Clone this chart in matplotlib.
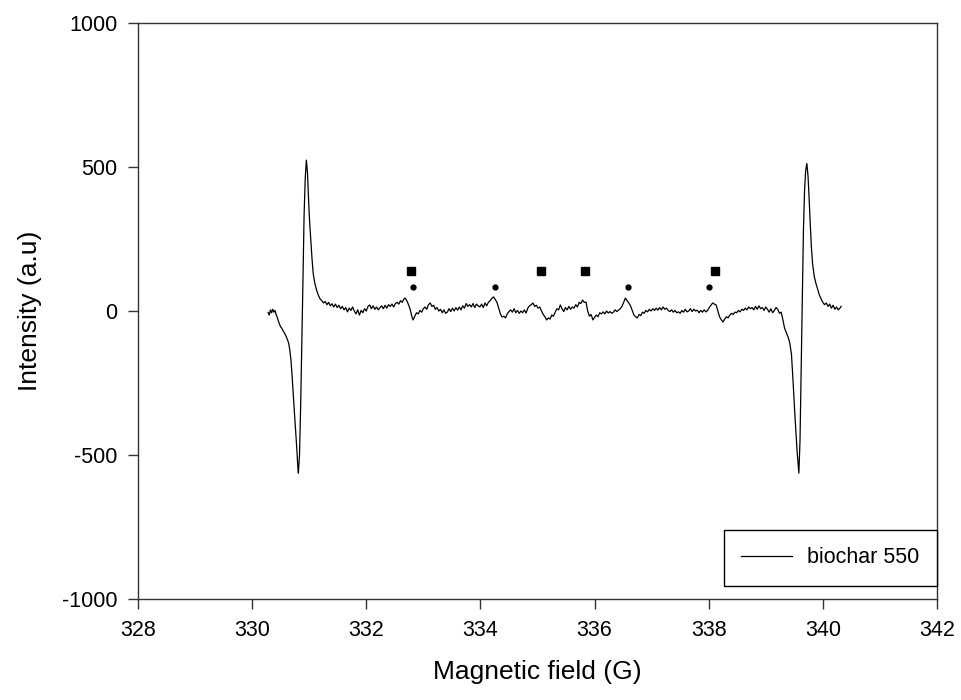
import matplotlib
matplotlib.use('Agg')
import matplotlib.pyplot as plt

plt.rcParams['font.family'] = ['Liberation Sans', 'DejaVu Sans']
plt.rcParams['axes.unicode_minus'] = False

# EPR spectrum (field in G, intensity in a.u.)
field = [
    330.28, 330.30, 330.32, 330.34, 330.36, 330.38, 330.40, 330.42, 330.44, 330.46,
    330.48, 330.50, 330.52, 330.54, 330.56, 330.58, 330.60, 330.62, 330.64, 330.66,
    330.68, 330.70, 330.72, 330.74, 330.76, 330.78, 330.80, 330.81, 330.83, 330.85,
    330.87, 330.89, 330.91, 330.93, 330.95, 330.97, 330.99, 331.01, 331.03, 331.05,
    331.07, 331.10, 331.13, 331.16, 331.19, 331.22, 331.25, 331.28, 331.31, 331.34,
    331.37, 331.40, 331.43, 331.46, 331.49, 331.52, 331.55, 331.58, 331.61, 331.64,
    331.67, 331.70, 331.73, 331.76, 331.79, 331.82, 331.85, 331.88, 331.91, 331.94,
    331.97, 332.00, 332.03, 332.06, 332.09, 332.12, 332.15, 332.18, 332.21, 332.24,
    332.27, 332.30, 332.33, 332.36, 332.39, 332.42, 332.45, 332.48, 332.51, 332.54,
    332.57, 332.60, 332.63, 332.66, 332.68, 332.71, 332.74, 332.77, 332.80, 332.82,
    332.85, 332.88, 332.91, 332.94, 332.97, 333.00, 333.03, 333.06, 333.09, 333.12,
    333.15, 333.18, 333.21, 333.24, 333.27, 333.30, 333.33, 333.36, 333.39, 333.42,
    333.45, 333.48, 333.51, 333.54, 333.57, 333.60, 333.63, 333.66, 333.69, 333.72,
    333.75, 333.78, 333.81, 333.84, 333.87, 333.90, 333.93, 333.96, 333.99, 334.02,
    334.05, 334.08, 334.11, 334.14, 334.17, 334.20, 334.23, 334.26, 334.29, 334.32,
    334.35, 334.38, 334.41, 334.44, 334.47, 334.50, 334.53, 334.56, 334.59, 334.62,
    334.65, 334.68, 334.71, 334.74, 334.77, 334.80, 334.83, 334.86, 334.89, 334.92,
    334.95, 334.98, 335.01, 335.04, 335.07, 335.10, 335.13, 335.16, 335.19, 335.22,
    335.25, 335.28, 335.31, 335.34, 335.37, 335.40, 335.43, 335.46, 335.49, 335.52,
    335.55, 335.58, 335.61, 335.64, 335.67, 335.70, 335.73, 335.76, 335.79, 335.82,
    335.85, 335.88, 335.91, 335.94, 335.97, 336.00, 336.03, 336.06, 336.09, 336.12,
    336.15, 336.18, 336.21, 336.24, 336.27, 336.30, 336.33, 336.36, 336.39, 336.42,
    336.45, 336.48, 336.51, 336.54, 336.57, 336.60, 336.63, 336.66, 336.69, 336.72,
    336.75, 336.78, 336.81, 336.84, 336.87, 336.90, 336.93, 336.96, 336.99, 337.02,
    337.05, 337.08, 337.11, 337.14, 337.17, 337.20, 337.23, 337.26, 337.29, 337.32,
    337.35, 337.38, 337.41, 337.44, 337.47, 337.50, 337.53, 337.56, 337.59, 337.62,
    337.65, 337.68, 337.71, 337.74, 337.77, 337.80, 337.83, 337.86, 337.89, 337.92,
    337.95, 337.98, 338.01, 338.04, 338.07, 338.10, 338.13, 338.16, 338.19, 338.22,
    338.25, 338.28, 338.31, 338.34, 338.37, 338.40, 338.43, 338.46, 338.49, 338.52,
    338.55, 338.58, 338.61, 338.64, 338.67, 338.70, 338.73, 338.76, 338.79, 338.82,
    338.85, 338.88, 338.91, 338.94, 338.97, 339.00, 339.03, 339.06, 339.09, 339.12,
    339.15, 339.18, 339.21, 339.24, 339.27, 339.30, 339.33, 339.36, 339.39, 339.42,
    339.45, 339.47, 339.49, 339.51, 339.53, 339.55, 339.57, 339.58, 339.60, 339.62,
    339.64, 339.66, 339.68, 339.70, 339.72, 339.74, 339.76, 339.78, 339.80, 339.82,
    339.85, 339.88, 339.91, 339.94, 339.97, 340.00, 340.03, 340.06, 340.09, 340.12,
    340.15, 340.18, 340.21, 340.24, 340.27, 340.30, 340.32,
]
intensity = [
    -5, -14, 4, -6, 6, -4, 2, -12, -22, -35,
    -46, -55, -60, -68, -74, -82, -90, -100, -112, -135,
    -170, -225, -290, -350, -410, -470, -540, -563, -500, -330,
    -120, 100, 330, 460, 524, 480, 380, 300, 240, 180,
    130, 95, 72, 55, 42, 36, 28, 33, 22, 30,
    18, 25, 14, 24, 12, 20, 8, 16, 4, 12,
    -3, 10, 2, 14, 0, -10, 4, -14, 2, -6,
    8, 0, 16, 21, 8, 18, 6, 14, 4, 12,
    18, 8, 20, 10, 22, 16, 24, 14, 26, 30,
    24, 36, 30, 42, 45, 36, 22, 5, -20, -31,
    -18, -6, -10, 2, -4, 8, 14, 6, 22, 28,
    16, 20, 6, 12, 0, 6, -6, 4, -8, -4,
    8, -2, 10, 0, 12, 3, 14, 4, 18, 10,
    26, 16, 22, 14, 26, 12, 24, 18, 14, 24,
    12, 28, 18, 30, 36, 44, 49, 40, 30, 10,
    -10, -21, -18, -24, -10, -2, 4, -4, 8, -6,
    2, -8, 0, -6, 4, -7, 10, 18, 22, 28,
    16, 20, 10, 14, 0, -12, -20, -31, -24, -28,
    -14, -18, -4, 8, 4, 21, 8, -2, 12, 4,
    16, 6, 14, 10, 22, 14, 30, 26, 38, 30,
    31, 0, -18, -12, -31, -22, -14, -20, -6, -10,
    -3, -10, 0, -7, -2, -8, -4, 4, -2, 3,
    8, 16, 30, 45, 36, 28, 18, 2, -14, -20,
    -24, -12, -16, -4, -8, 2, -3, 6, 0, 8,
    2, 10, 3, 12, 4, 14, 6, 10, 2, -2,
    4, -4, 2, -6, -3, -8, 2, -4, 6, -3,
    0, 8, -2, 6, 0, 3, -6, 2, -4, 4,
    -3, 2, 12, 20, 28, 24, 21, 0, -20, -30,
    -38, -28, -20, -24, -14, -8, -12, -4, -6, 2,
    -3, 6, 2, 10, 4, 14, 8, 12, 4, 16,
    6, 18, 8, 12, 2, 14, 6, -4, 8, -6,
    2, 12, 6, -8, -4, -30, -60, -75, -90, -110,
    -150, -215, -290, -360, -424, -490, -540, -563, -450, -200,
    60, 280, 420, 490, 512, 470, 390, 300, 220, 165,
    120, 95, 75, 55, 42, 30, 22, 28, 16, 24,
    10, 20, 6, 14, 4, 10, 16,
]

# marker annotations above the hyperfine features
square_field = [332.79, 335.07, 335.84, 338.11]
square_level = [140, 140, 140, 140]
dot_field = [332.82, 334.25, 336.58, 338.00]
dot_level = [85, 85, 85, 85]

fig = plt.figure(figsize=(9.61, 7.0), dpi=100)
ax = fig.add_axes([0.1436, 0.1443, 0.8314, 0.8228])

ax.plot(field, intensity, color='black', linewidth=0.9, label='biochar 550')
ax.plot(square_field, square_level, linestyle='none', marker='s', markersize=6, color='black')
ax.plot(dot_field, dot_level, linestyle='none', marker='o', markersize=3.5, color='black')

ax.set_xlim(328, 342)
ax.set_ylim(-1000, 1000)
ax.set_xticks([328, 330, 332, 334, 336, 338, 340, 342])
ax.set_yticks([-1000, -500, 0, 500, 1000])

for sp in ax.spines.values():
    sp.set_color('#333333')
    sp.set_linewidth(1.0)

ax.tick_params(direction='out', length=7, width=1, color='#333333', labelsize=15.5, pad=8)

ax.set_xlabel('Magnetic field (G)', fontsize=19, labelpad=14)
ax.set_ylabel('Intensity (a.u)', fontsize=19, labelpad=14)

leg = ax.legend(loc='lower right', bbox_to_anchor=(1.0, 0.0226), borderaxespad=0,
                fontsize=15.5, frameon=True, fancybox=False, framealpha=1,
                edgecolor='black', handlelength=2.35, handletextpad=0.7, borderpad=0.82)
leg.get_frame().set_linewidth(1.0)

fig.savefig('out.png', dpi=100)
